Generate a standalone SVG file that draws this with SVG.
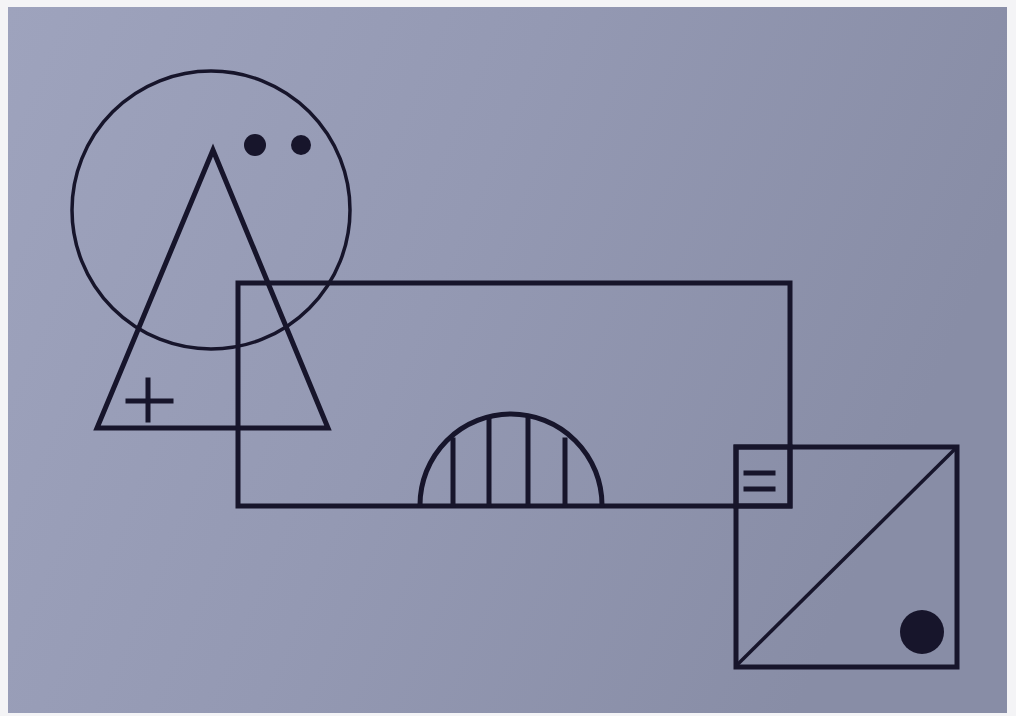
<svg xmlns="http://www.w3.org/2000/svg" width="1016" height="716" viewBox="0 0 1016 716">
<defs>
<linearGradient id="bg" x1="0" y1="0" x2="1" y2="0.3">
<stop offset="0" stop-color="#9ea3bd"/>
<stop offset="0.5" stop-color="#9499b3"/>
<stop offset="1" stop-color="#888da6"/>
</linearGradient>
<style>
.s{fill:none;stroke:#17152b;stroke-width:5;stroke-linejoin:miter;stroke-linecap:square}
.t{fill:none;stroke:#17152b;stroke-width:3.5}
.f{fill:#17152b}
</style>
</defs>
<rect x="0" y="0" width="1016" height="716" fill="#f4f4f6"/>
<rect x="8" y="7" width="999" height="706" fill="url(#bg)"/>
<g id="circle-group">
<circle class="t" cx="211" cy="210" r="139"/>
<circle class="f" cx="255" cy="145" r="11"/>
<circle class="f" cx="301" cy="145" r="10"/>
</g>
<g id="triangle">
<polygon class="s" points="213,150 97,428 328,428"/>
<line class="s" x1="128" y1="401" x2="171" y2="401"/>
<line class="s" x1="148" y1="380" x2="148" y2="420"/>
</g>
<g id="rectangle">
<rect class="s" x="238" y="283" width="552" height="223"/>
<path class="s" d="M420,505 A91,91 0 0 1 602,505"/>
<line class="s" x1="453" y1="440" x2="453" y2="505"/>
<line class="s" x1="489" y1="419" x2="489" y2="505"/>
<line class="s" x1="528" y1="419" x2="528" y2="505"/>
<line class="s" x1="565" y1="440" x2="565" y2="505"/>
</g>
<g id="square">
<rect class="s" x="736" y="447" width="221" height="220"/>
<rect class="s" x="736" y="447" width="54" height="59"/>
<line class="s" x1="746" y1="473" x2="773" y2="473"/>
<line class="s" x1="746" y1="489" x2="773" y2="489"/>
<line class="t" x1="737" y1="665" x2="955" y2="449"/>
<circle class="f" cx="922" cy="632" r="22"/>
</g>
</svg>
